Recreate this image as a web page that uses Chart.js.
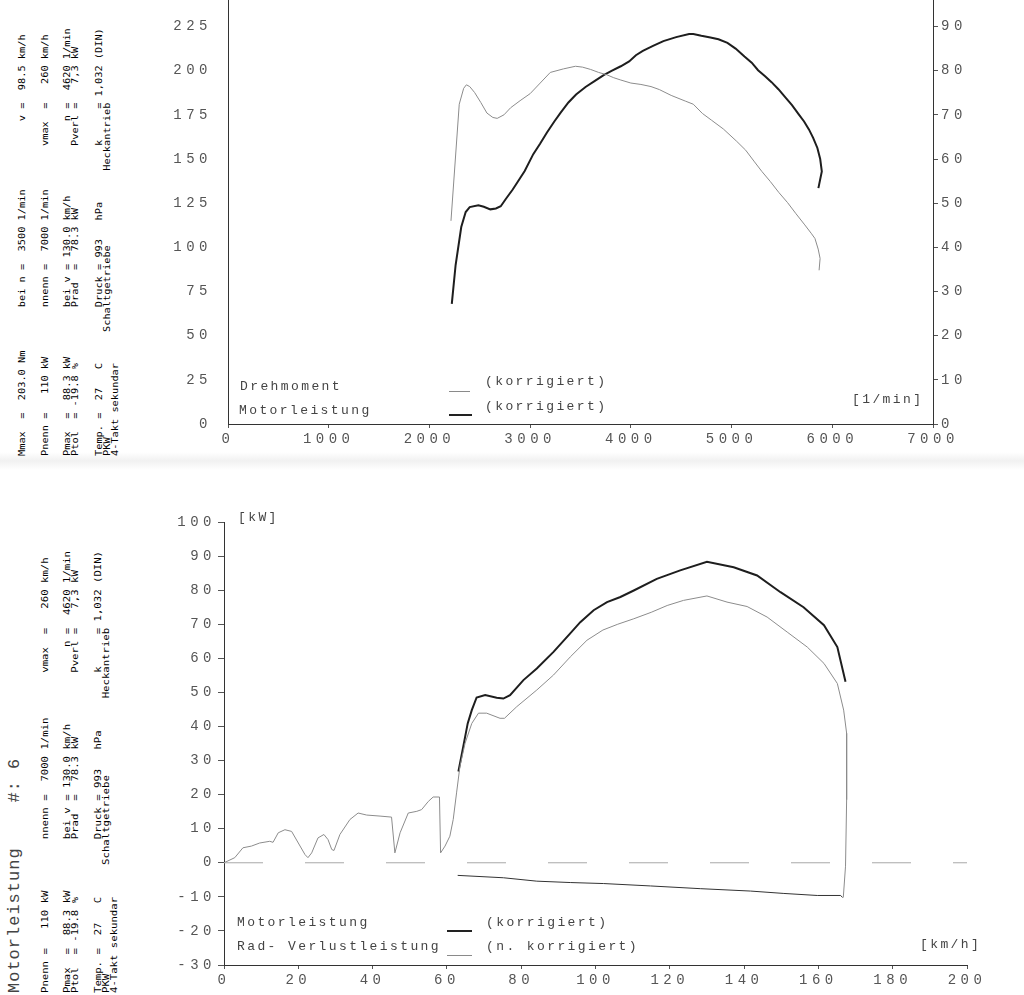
<!DOCTYPE html>
<html><head><meta charset="utf-8">
<script src="https://cdn.jsdelivr.net/npm/chart.js@4.4.1/dist/chart.umd.min.js"></script>
<style>
html,body{margin:0;padding:0;background:#fff;}
body{width:1024px;height:995px;position:relative;overflow:hidden;}
#w1{position:absolute;left:150px;top:0;width:874px;height:460px;}
#w2{position:absolute;left:150px;top:505px;width:874px;height:490px;}
.t{position:absolute;font-family:"Liberation Mono",monospace;font-size:13px;line-height:14px;letter-spacing:2.4px;color:#444;white-space:pre;}
.info{position:absolute;transform-origin:0 0;font-family:"DejaVu Sans Mono",monospace;font-size:9.5px;line-height:9px;color:#000;white-space:pre;}
.title{position:absolute;transform-origin:0 0;transform:rotate(-90deg);font-family:"Liberation Mono",monospace;font-size:17px;line-height:17px;letter-spacing:1px;color:#444;white-space:pre;}
.ln{position:absolute;height:0;}
.band{position:absolute;left:0;top:452px;width:1024px;height:18px;background:linear-gradient(#fff,#f1f1f1 50%,#fff);}
</style></head>
<body>
<div class="band"></div>
<div id="w1"><canvas id="c1" width="874" height="460"></canvas></div>
<div id="w2"><canvas id="c2" width="874" height="490"></canvas></div>

<!-- top chart annotations -->
<div class="t" style="left:240px;top:380px;">Drehmoment</div>
<div class="ln" style="left:449px;top:391px;width:21px;border-top:1px solid #8a8a8a;"></div>
<div class="t" style="left:485px;top:375px;">(korrigiert)</div>
<div class="t" style="left:239px;top:404px;">Motorleistung</div>
<div class="ln" style="left:449px;top:414px;width:23px;border-top:2px solid #222;"></div>
<div class="t" style="left:485px;top:400px;">(korrigiert)</div>
<div class="t" style="left:852px;top:393px;">[1/min]</div>

<!-- bottom chart annotations -->
<div class="t" style="left:238px;top:511px;">[kW]</div>
<div class="t" style="left:237px;top:916px;">Motorleistung</div>
<div class="ln" style="left:447px;top:930px;width:25px;border-top:2px solid #222;"></div>
<div class="t" style="left:486px;top:916px;">(korrigiert)</div>
<div class="t" style="left:237px;top:940px;">Rad- Verlustleistung</div>
<div class="ln" style="left:447px;top:955px;width:25px;border-top:1px solid #8a8a8a;"></div>
<div class="t" style="left:486px;top:940px;">(n. korrigiert)</div>
<div class="t" style="left:920px;top:938px;">[km/h]</div>

<div id="info"></div>

<script>
// ---------- data: top chart (Drehmoment / Motorleistung over rpm) ----------
const rpmTorque = [2214,2296,2340,2367,2400,2449,2510,2571,2630,2673,2740,2806,2900,3000,3100,3200,3330,3450,3520,3600,3680,3760,3830,3900,4000,4100,4200,4283,4400,4540,4620,4710,4800,4918,5051,5140,5222,5300,5384,5470,5556,5640,5727,5790,5828,5860,5879,5869];
const torqueNm  = [115,181,190,192,191,187.6,182,176,173.5,173,175,179,183,187,193,199,201,202.5,202,200.7,199,197.7,196,194.7,193,192.2,191,189.3,186,182.8,181,175.8,172,167,160,155,148.8,143,137.3,131,125.3,119,112.7,108,105,99,93.7,87];
const rpmPower  = [2222,2260,2316,2360,2400,2486,2540,2605,2660,2708,2760,2827,2946,3031,3100,3167,3240,3303,3380,3456,3550,3643,3730,3813,3900,3983,4050,4119,4220,4323,4450,4578,4620,4700,4790,4870,4959,5040,5128,5200,5263,5330,5397,5465,5532,5600,5667,5720,5768,5810,5852,5880,5896,5862];
const powerKw   = [27.2,36,44.6,48,49.1,49.5,49.2,48.6,48.8,49.3,51,53.1,57.3,61.1,63.5,66,68.5,70.5,72.8,74.6,76.3,77.7,79,80,81,82.1,83.5,84.5,85.6,86.7,87.6,88.3,88.3,87.9,87.5,87.1,86.3,85,83.2,81.8,80.1,78.8,77.4,75.8,74,72.2,70.1,68.5,66.7,64.8,62.5,60,57.2,53.4];

// ---------- data: bottom chart (power over km/h) ----------
const speedWheel = [0,2.9,5.1,7.4,9.6,12.3,13.2,14.6,16.4,18.2,20,21.8,22.6,23.6,25.3,26.9,28,29,29.6,31.2,33.9,36.1,38.4,42,45.1,46,47.4,49.6,51.9,53.2,55,56.3,58,58.3,59.5,60.8,61.7,62.6,63.5,64.9,66.7,68.5,70.7,74.3,75.5,78.8,84.2,88.7,93.2,97.7,102,106,110.3,115,119.3,123.7,130,135.4,140.8,146.2,151.6,157,161.5,165.1,166.8,167.6,167.6,167.3,166.7];
const wheelKw    = [0,1.5,4.4,4.9,5.8,6.3,6.0,8.8,9.7,9.2,5.8,2.4,1.5,2.9,7.3,8.3,6.8,3.9,3.6,8.3,12.7,14.6,14.0,13.7,13.4,2.9,8.8,14.6,15.1,15.6,18,19.3,19.3,2.9,4.9,7.8,12.7,20.5,28.2,35.1,40.9,43.9,43.9,42.4,42.4,45.8,50.7,55.1,60.4,65.3,68.3,70,71.6,73.5,75.5,77,78.3,76.5,75.2,72.1,67.7,63.3,58.5,52.6,44.8,38,18.5,-1,-10.2];
const speedMotor = [63.1,64.4,65.6,66.7,68,70.3,73.4,75.2,77,80.6,84.2,88.7,93.2,95.9,99.5,103.1,106.7,110.3,116.5,122.8,130,137.2,143.5,149.8,156,161.5,165.1,167.3];
const motorKw    = [26.8,34.1,40.9,44.8,48.5,49.2,48.4,48.2,49.2,53.6,57,61.9,67.3,70.6,74.1,76.5,78,79.9,83.3,85.8,88.3,86.7,84.3,79.4,75,69.7,63.3,53.1];
const speedLoss  = [62.9,75.2,84.2,93.2,102.2,114.8,128.2,141.7,150.7,159.7,166,166.5];
const lossKw     = [-3.7,-4.4,-5.4,-5.8,-6.1,-6.8,-7.6,-8.3,-9.0,-9.6,-9.6,-10.2];
const zeroLineX  = [0,200];
const zeroLineY  = [0,0];

// ---------- axis tick settings ----------
const rpmTicks = {min:0,max:7000,step:1000};
const nmTicks  = {min:0,max:240,step:25};
const kwTopTicks = {min:0,max:96,step:10};
const kmhTicks = {min:0,max:200,step:20};
const kwBotTicks = {min:-30,max:100,step:10};

// ---------- info text (left margin, rotated) ----------
const infoLines = [
  [[0,"Mmax  =  203.0 Nm"],[24,"bei n =  3500 1/min"],[50,"    v =  98.5 km/h"]],
  [[0,"Pnenn =   110 kW"],[24,"nnenn =  7000 1/min"],[50,"vmax  =   260 km/h"]],
  [[0,"Pmax  =  88.3 kW"],[24,"bei v = 130.0 km/h"],[50,"    n =  4620 1/min"]],
  [[0,"Ptol  = -19.8 %"],[24,"Prad  =  78.3 kW"],[50,"Pverl =   7,3 kW"]],
  [[0,"Temp. =  27   C"],[24,"Druck = 993   hPa"],[50,"k     = 1,032 (DIN)"]],
  [[0,"PKW"],[20,"Schaltgetriebe"],[46,"Heckantrieb"]],
  [[0,"4-Takt sekundar"]]
];
const titleText = "Motorleistung    #: 6";

function buildLine(parts){let s='';for(const [col,txt] of parts){while(s.length<col)s+=' ';s+=txt;}return s;}
const info = document.getElementById('info');
function addInfo(idx,cx,startY,sx){
  const d=document.createElement('div');d.className='info';d.textContent=buildLine(infoLines[idx]);
  d.style.transform='rotate(-90deg) scale('+sx+',1)';
  d.style.left=(cx-4.5)+'px';d.style.top=startY+'px';info.appendChild(d);
}
// top block
const topX=[21,44,66,74,98,106,114];
topX.forEach((x,i)=>addInfo(i,x,456,1.084));
// bottom block (without Mmax line)
const botX=[null,44,66,74,97,105,113];
botX.forEach((x,i)=>{if(x!==null)addInfo(i,x,993,1.12);});
const t=document.createElement('div');t.className='title';t.textContent=titleText;
t.style.left='6px';t.style.top='993px';info.appendChild(t);

// ---------- chart helpers ----------
const tickFont={family:'"Liberation Mono", monospace',size:14};
const tickColor='#555';
const spacingPlugin={id:'spacing',beforeDraw(c){c.ctx.letterSpacing='4.5px';}};
function pts(xs,ys){return xs.map((x,i)=>({x:x,y:ys[i]}));}
function keepMultiples(step){return s=>{s.ticks=s.ticks.filter(t=>Math.abs(t.value/step-Math.round(t.value/step))<1e-9);};}
function fixW(w){return s=>{s.width=w;s.paddingTop=0;s.paddingBottom=0;};}
function fixH(h){return s=>{s.height=h;s.paddingLeft=0;s.paddingRight=0;};}
const lbl=v=>String(v);

new Chart(document.getElementById('c1'),{
  type:'line',
  data:{datasets:[
    {label:'Drehmoment',data:pts(rpmTorque,torqueNm),yAxisID:'yT',borderColor:'#8c8c8c',borderWidth:1,pointRadius:0,tension:0},
    {label:'Motorleistung',data:pts(rpmPower,powerKw),yAxisID:'yP',borderColor:'#1e1e1e',borderWidth:2,pointRadius:0,tension:0}
  ]},
  options:{responsive:false,animation:false,devicePixelRatio:1,
    layout:{padding:0},
    plugins:{legend:{display:false},tooltip:{enabled:false}},
    scales:{
      x:{type:'linear',min:rpmTicks.min,max:rpmTicks.max,
        ticks:{stepSize:rpmTicks.step,font:tickFont,color:tickColor,padding:3,maxRotation:0,callback:lbl},
        grid:{drawOnChartArea:false,tickLength:4,color:'#555'},border:{color:'#333',width:1},
        afterFit:fixH(36)},
      yT:{position:'left',min:nmTicks.min,max:nmTicks.max,
        ticks:{stepSize:nmTicks.step,font:tickFont,color:tickColor,padding:16,callback:lbl},
        afterBuildTicks:keepMultiples(nmTicks.step),
        grid:{drawOnChartArea:false,drawTicks:false},border:{color:'#333',width:1},
        afterFit:fixW(78)},
      yP:{position:'right',min:kwTopTicks.min,max:kwTopTicks.max,
        ticks:{stepSize:kwTopTicks.step,font:tickFont,color:tickColor,padding:3,callback:lbl},
        afterBuildTicks:keepMultiples(kwTopTicks.step),
        grid:{drawOnChartArea:false,tickLength:5,color:'#555'},border:{color:'#333',width:1},
        afterFit:fixW(91)}
    }},
  plugins:[spacingPlugin]
});

new Chart(document.getElementById('c2'),{
  type:'line',
  data:{datasets:[
    {label:'Null',data:pts(zeroLineX,zeroLineY),borderColor:'#a8a8a8',borderWidth:1,borderDash:[39,42],pointRadius:0},
    {label:'Radleistung',data:pts(speedWheel,wheelKw),borderColor:'#8c8c8c',borderWidth:1,pointRadius:0,tension:0},
    {label:'Verlustleistung',data:pts(speedLoss,lossKw),borderColor:'#333',borderWidth:1,pointRadius:0,tension:0},
    {label:'Motorleistung',data:pts(speedMotor,motorKw),borderColor:'#1e1e1e',borderWidth:2,pointRadius:0,tension:0}
  ]},
  options:{responsive:false,animation:false,devicePixelRatio:1,
    layout:{padding:{top:17,right:57,left:0,bottom:0}},
    plugins:{legend:{display:false},tooltip:{enabled:false}},
    scales:{
      x:{type:'linear',min:kmhTicks.min,max:kmhTicks.max,
        ticks:{stepSize:kmhTicks.step,font:tickFont,color:tickColor,padding:3,maxRotation:0,callback:lbl},
        grid:{drawOnChartArea:false,tickLength:4,color:'#555'},border:{color:'#333',width:1},
        afterFit:fixH(30)},
      y:{position:'left',min:kwBotTicks.min,max:kwBotTicks.max,
        ticks:{stepSize:kwBotTicks.step,font:tickFont,color:tickColor,padding:2,callback:lbl},
        grid:{drawOnChartArea:false,tickLength:6,color:'#555'},border:{color:'#333',width:1},
        afterFit:fixW(74)}
    }},
  plugins:[spacingPlugin]
});
</script>
</body></html>
